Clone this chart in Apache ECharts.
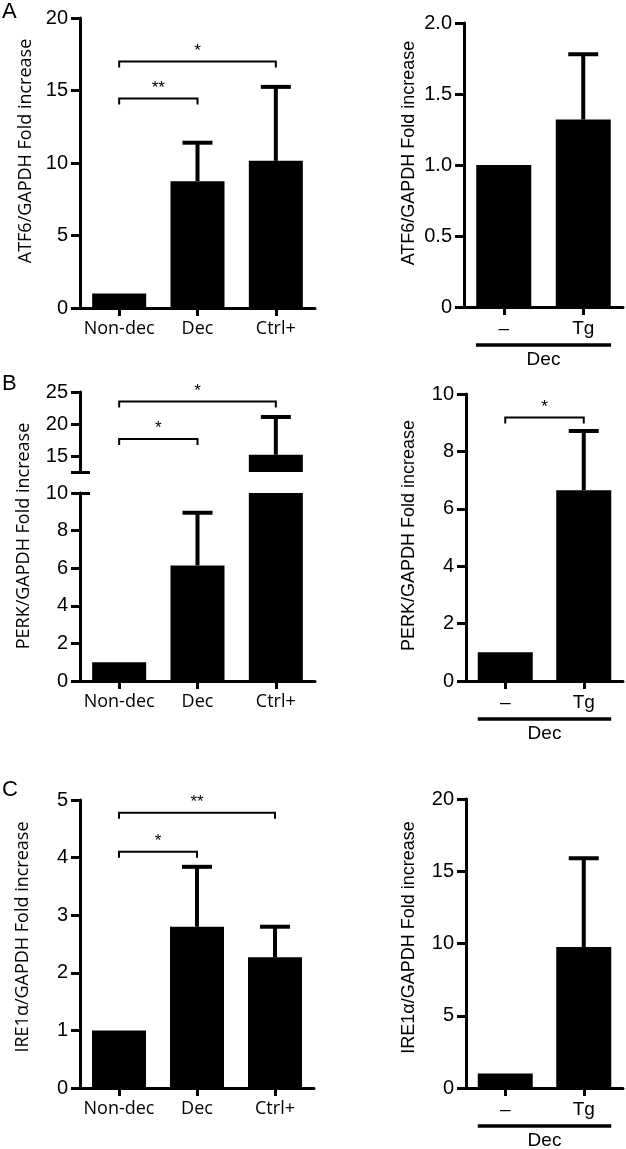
<!DOCTYPE html>
<html><head><meta charset="utf-8">
<script src="https://cdn.jsdelivr.net/npm/echarts@6/dist/echarts.min.js"></script>
<style>html,body{margin:0;padding:0;background:#fff}#c{width:626px;height:1149px}</style>
</head><body><div id="c"></div>
<script>
// ---------- data ----------
const catsLeft = ['Non-dec', 'Dec', 'Ctrl+'];
const catsRight = ['–', 'Tg'];
const groupLabel = 'Dec';

const atf6LeftMean = [1.0, 8.75, 10.15];
const atf6LeftSem = [0, 2.65, 5.1];
const atf6RightMean = [1.0, 1.32];
const atf6RightSem = [0, 0.46];
const perkLeftMean = [1.0, 6.15, 15.2];
const perkLeftSem = [0, 2.8, 5.9];
const perkRightMean = [1.0, 6.65];
const perkRightSem = [0, 2.06];
const ire1LeftMean = [1.0, 2.8, 2.27];
const ire1LeftSem = [0, 1.04, 0.53];
const ire1RightMean = [1.0, 9.76];
const ire1RightSem = [0, 6.14];

// significance brackets: [fromIndex, toIndex, yValue]
const atf6LeftSig = [[0, 1, 14.45], [0, 2, 17.0]];
const atf6LeftSigText = ['**', '*'];
const perkLeftSig = [[0, 1, 17.66], [0, 2, 23.5]];
const perkLeftSigText = ['*', '*'];
const perkRightSig = [[0, 1, 9.18]];
const perkRightSigText = ['*'];
const ire1LeftSig = [[0, 1, 4.1], [0, 2, 4.78]];
const ire1LeftSigText = ['*', '**'];

const perkUpperTicks = [12.5, 15, 20, 25];
const perkUpperLabels = [15, 20, 25];
const perkBreakLow = [10];
const perkBreakHigh = [12.5];

const yTitles = {
  atf6: 'ATF6/GAPDH Fold increase',
  perk: 'PERK/GAPDH Fold increase',
  ire1: 'IRE1α/GAPDH Fold increase'
};

// ---------- styling ----------
const BLACK = '#000';
const SANS = 'Liberation Sans';
const HUM = 'Open Sans';

const grids = [
  { left: 80, top: 18, width: 235, height: 290 },   // 0 A-left
  { left: 464, top: 23, width: 159, height: 284 },  // 1 A-right
  { left: 80, top: 392, width: 235, height: 80 },   // 2 B-left upper
  { left: 80, top: 493, width: 235, height: 188 },  // 3 B-left lower
  { left: 466, top: 394, width: 157, height: 287 }, // 4 B-right
  { left: 80, top: 800, width: 234, height: 288 },  // 5 C-left
  { left: 466, top: 799, width: 157, height: 289 }  // 6 C-right
].map(g => Object.assign({ outerBoundsMode: 'none', containLabel: false }, g));

function xAx(gi, cats, font, size, show) {
  return {
    type: 'category', gridIndex: gi, data: cats, show: show,
    axisLine: { show: show, onZero: false, lineStyle: { color: BLACK, width: 3 } },
    axisTick: { show: show, alignWithLabel: true, length: 8, lineStyle: { color: BLACK, width: 3 } },
    axisLabel: { show: show, interval: 0, hideOverlap: false, color: BLACK, fontFamily: font, fontSize: size, margin: 12 },
    splitLine: { show: false }
  };
}

function yAx(gi, o) {
  const a = {
    type: 'value', gridIndex: gi, position: 'left', min: o.min, max: o.max,
    axisLine: { show: true, lineStyle: { color: BLACK, width: 3 } },
    axisTick: { show: true, length: 9, lineStyle: { color: BLACK, width: 3 } },
    axisLabel: { show: true, color: BLACK, fontFamily: SANS, fontSize: 20, margin: 12 },
    splitLine: { show: false }
  };
  if (o.interval != null) a.interval = o.interval;
  if (o.fmt) a.axisLabel.formatter = o.fmt;
  if (o.tickValues) a.axisTick.customValues = o.tickValues;
  if (o.labelValues) a.axisLabel.customValues = o.labelValues;
  if (o.name) {
    a.name = o.name;
    a.nameLocation = 'middle';
    a.nameGap = o.nameGap;
    a.nameTextStyle = { color: BLACK, fontFamily: o.nameFont, fontSize: 18, padding: [0, 0, 0, o.shift || 0] };
  }
  return a;
}

function breakAx(gi, min, max, vals) {
  return {
    type: 'value', gridIndex: gi, position: 'left', offset: 0, min: min, max: max,
    axisLine: { show: false },
    axisTick: { show: true, inside: true, length: 10, customValues: vals, lineStyle: { color: BLACK, width: 3 } },
    axisLabel: { show: false },
    splitLine: { show: false }
  };
}

function barS(gi, data, w) {
  return { type: 'bar', xAxisIndex: gi, yAxisIndex: gi, data: data, barWidth: w,
    itemStyle: { color: BLACK }, silent: true, z: 2 };
}

function errS(gi, mean, sem) {
  return {
    type: 'custom', xAxisIndex: gi, yAxisIndex: gi, clip: true, silent: true, z: 3,
    data: mean.map((m, i) => [i, m, sem[i]]).filter(d => d[2] > 0),
    renderItem: function (params, api) {
      const x = api.value(0), m = api.value(1), s = api.value(2);
      const b = api.coord([x, m]), t = api.coord([x, m + s]);
      return { type: 'group', children: [
        { type: 'line', shape: { x1: b[0], y1: b[1], x2: t[0], y2: t[1] }, style: { stroke: BLACK, lineWidth: 4 } },
        { type: 'line', shape: { x1: t[0] - 15, y1: t[1], x2: t[0] + 15, y2: t[1] }, style: { stroke: BLACK, lineWidth: 4 } }
      ] };
    }
  };
}

function sigS(gi, sig, texts) {
  return {
    type: 'custom', xAxisIndex: gi, yAxisIndex: gi, clip: false, silent: true, z: 4,
    data: sig,
    renderItem: function (params, api) {
      const a = api.coord([api.value(0), api.value(2)]);
      const b = api.coord([api.value(1), api.value(2)]);
      return { type: 'group', children: [
        { type: 'polyline', shape: { points: [[a[0], a[1] + 6], [a[0], a[1]], [b[0], b[1]], [b[0], b[1] + 6]] },
          style: { stroke: BLACK, lineWidth: 2, fill: null } },
        { type: 'text', x: (a[0] + b[0]) / 2, y: a[1] - 2,
          style: { text: texts[params.dataIndex], fill: BLACK, font: '17px "Liberation Sans"', align: 'center', verticalAlign: 'bottom' } }
      ] };
    }
  };
}

function groupS(gi) {
  return {
    type: 'custom', xAxisIndex: gi, yAxisIndex: gi, clip: false, silent: true, z: 4,
    data: [[0, 0]],
    renderItem: function (params, api) {
      const p0 = api.coord([0, 0]), p1 = api.coord([catsRight.length - 1, 0]);
      const hw = api.size([1, 0])[0] * 0.35;
      const y = p0[1] + 38;
      return { type: 'group', children: [
        { type: 'line', shape: { x1: p0[0] - hw, y1: y, x2: p1[0] + hw, y2: y }, style: { stroke: BLACK, lineWidth: 3.5 } },
        { type: 'text', x: (p0[0] + p1[0]) / 2, y: y + 5,
          style: { text: groupLabel, fill: BLACK, font: '19px "Liberation Sans"', align: 'center', verticalAlign: 'top' } }
      ] };
    }
  };
}

const fmt1 = v => (v === 0 ? '0' : v.toFixed(1));
const letterStyle = { fontFamily: SANS, fontSize: 22, fontWeight: 'normal', color: BLACK };

const option = {
  animation: false,
  backgroundColor: '#fff',
  textStyle: { fontFamily: SANS, color: BLACK },
  title: [
    { text: 'A', left: 2, top: 1, padding: 0, textStyle: letterStyle },
    { text: 'B', left: 2, top: 373, padding: 0, textStyle: letterStyle },
    { text: 'C', left: 2, top: 779, padding: 0, textStyle: letterStyle }
  ],
  grid: grids,
  xAxis: [
    xAx(0, catsLeft, HUM, 18, true),
    xAx(1, catsRight, SANS, 19, true),
    xAx(2, catsLeft, HUM, 18, false),
    xAx(3, catsLeft, HUM, 18, true),
    xAx(4, catsRight, SANS, 19, true),
    xAx(5, catsLeft, HUM, 18, true),
    xAx(6, catsRight, SANS, 19, true)
  ],
  yAxis: [
    yAx(0, { min: 0, max: 20, interval: 5, name: yTitles.atf6, nameFont: HUM, nameGap: 45, shift: 24 }),
    yAx(1, { min: 0, max: 2, interval: 0.5, fmt: fmt1, name: yTitles.atf6, nameFont: SANS, nameGap: 46, shift: 24 }),
    yAx(2, { min: 12.5, max: 25, tickValues: perkUpperTicks, labelValues: perkUpperLabels }),
    yAx(3, { min: 0, max: 10, interval: 2, name: yTitles.perk, nameFont: HUM, nameGap: 47, shift: 102 }),
    yAx(4, { min: 0, max: 10, interval: 2, name: yTitles.perk, nameFont: SANS, nameGap: 48, shift: 4 }),
    yAx(5, { min: 0, max: 5, interval: 1, name: yTitles.ire1, nameFont: HUM, nameGap: 48, shift: 14 }),
    yAx(6, { min: 0, max: 20, interval: 5, name: yTitles.ire1, nameFont: SANS, nameGap: 48, shift: 12 }),
    breakAx(2, 12.5, 25, perkBreakHigh),
    breakAx(3, 0, 10, perkBreakLow)
  ],
  series: [
    barS(0, atf6LeftMean, 54), errS(0, atf6LeftMean, atf6LeftSem), sigS(0, atf6LeftSig, atf6LeftSigText),
    barS(1, atf6RightMean, 55), errS(1, atf6RightMean, atf6RightSem), groupS(1),
    barS(2, perkLeftMean, 54), errS(2, perkLeftMean, perkLeftSem), sigS(2, perkLeftSig, perkLeftSigText),
    barS(3, perkLeftMean, 54), errS(3, perkLeftMean, perkLeftSem),
    barS(4, perkRightMean, 55), errS(4, perkRightMean, perkRightSem), sigS(4, perkRightSig, perkRightSigText), groupS(4),
    barS(5, ire1LeftMean, 54), errS(5, ire1LeftMean, ire1LeftSem), sigS(5, ire1LeftSig, ire1LeftSigText),
    barS(6, ire1RightMean, 55), errS(6, ire1RightMean, ire1RightSem), groupS(6)
  ]
};

const chart = echarts.init(document.getElementById('c'), null, { renderer: 'canvas' });
chart.setOption(option);
</script>
</body></html>
